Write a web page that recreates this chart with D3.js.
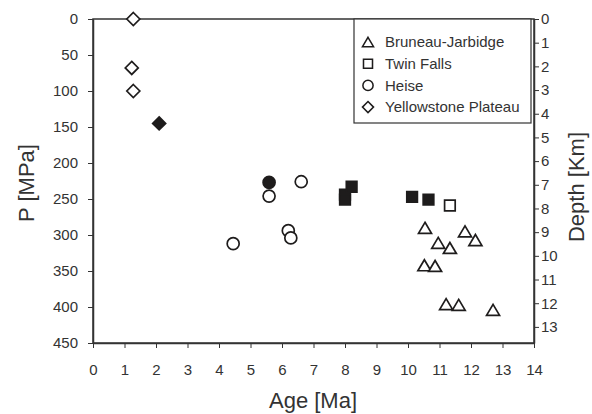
<!DOCTYPE html>
<html>
<head>
<meta charset="utf-8">
<script src="https://cdn.jsdelivr.net/npm/d3@7"></script>
<style>
  html, body { margin: 0; padding: 0; background: #fff; }
  svg { display: block; font-family: "Liberation Sans", Arial, sans-serif; }
</style>
</head>
<body>
<svg id="chart" width="592" height="414"></svg>
<script>
// Series data: age [Ma], pressure [MPa], filled marker flag
const bjAge = [10.54, 11.81, 12.14, 10.96, 11.33, 10.52, 10.86, 11.21, 11.61, 12.70];
const bjP   = [290, 295, 307, 311, 318, 342, 343, 396, 397, 404];
const bjFilled = [0, 0, 0, 0, 0, 0, 0, 0, 0, 0];

const tfAge = [8.0, 8.0, 8.21, 10.13, 10.65, 11.33];
const tfP   = [244, 251, 233, 247, 251, 259];
const tfFilled = [1, 1, 1, 1, 1, 0];

const heAge = [5.59, 5.59, 6.61, 6.20, 6.28, 4.45];
const heP   = [227, 246, 226, 294, 304, 312];
const heFilled = [1, 0, 0, 0, 0, 0];

const ysAge = [1.28, 1.23, 1.28, 2.10];
const ysP   = [0, 68, 100, 145];
const ysFilled = [0, 0, 0, 1];

const seriesNames = ["Bruneau-Jarbidge", "Twin Falls", "Heise", "Yellowstone Plateau"];
const seriesShapes = ["triangle", "square", "circle", "diamond"];

const xTicks = d3.range(0, 15);
const pTicks = d3.range(0, 451, 50);
const depthTicks = d3.range(0, 14);
const depthMax = 13.68;   // depth at 450 MPa

const svg = d3.select("#chart");
const plotLeft = 93, plotRight = 534, plotTop = 19, plotBottom = 343;
const ink = "#333";
const markInk = "#1e1c1c";

const x = d3.scaleLinear().domain([0, 14]).range([plotLeft, plotRight]);
const y = d3.scaleLinear().domain([0, 450]).range([plotTop, plotBottom]);
const yd = d3.scaleLinear().domain([0, depthMax]).range([plotTop, plotBottom]);

function shapePath(shape) {
  switch (shape) {
    case "triangle": return "M0,-5.5L6.5,5.5L-6.5,5.5Z";
    case "square":   return "M-5.3,-5.3H5.3V5.3H-5.3Z";
    case "circle":   return "M6,0A6,6 0 1,1 -6,0A6,6 0 1,1 6,0Z";
    case "diamond":  return "M0,-6.5L6.5,0L0,6.5L-6.5,0Z";
  }
}

// frame
svg.append("rect")
  .attr("x", plotLeft).attr("y", plotTop)
  .attr("width", plotRight - plotLeft).attr("height", plotBottom - plotTop)
  .attr("fill", "none").attr("stroke", ink).attr("stroke-width", 1.5);

function styleAxis(g) {
  g.select(".domain").attr("stroke", ink).attr("stroke-width", 1.5);
  g.selectAll(".tick line").attr("stroke", ink).attr("stroke-width", 1);
  g.selectAll(".tick text").attr("fill", ink).attr("font-size", 15)
    .attr("font-family", "Liberation Sans, Arial, sans-serif");
}

svg.append("g").attr("transform", `translate(0,${plotBottom})`)
  .call(d3.axisBottom(x).tickValues(xTicks).tickSize(5).tickPadding(16).tickSizeOuter(0))
  .call(styleAxis);

svg.append("g").attr("transform", `translate(${plotLeft},0)`)
  .call(d3.axisLeft(y).tickValues(pTicks).tickSize(5).tickPadding(10).tickSizeOuter(0))
  .call(styleAxis);

svg.append("g").attr("transform", `translate(${plotRight},0)`)
  .call(d3.axisRight(yd).tickValues(depthTicks).tickSize(5).tickPadding(2).tickSizeOuter(0))
  .call(styleAxis);

// axis titles
svg.append("text").attr("x", 313).attr("y", 407.5)
  .attr("text-anchor", "middle").attr("font-size", 22).attr("fill", ink).text("Age [Ma]");
svg.append("text").attr("transform", "translate(33.5,183) rotate(-90)")
  .attr("text-anchor", "middle").attr("font-size", 22).attr("fill", ink).text("P [MPa]");
svg.append("text").attr("transform", "translate(584,187) rotate(-90)")
  .attr("text-anchor", "middle").attr("font-size", 22).attr("fill", ink).text("Depth [Km]");

// data points
const series = [
  { ages: bjAge, ps: bjP, filled: bjFilled },
  { ages: tfAge, ps: tfP, filled: tfFilled },
  { ages: heAge, ps: heP, filled: heFilled },
  { ages: ysAge, ps: ysP, filled: ysFilled }
];

series.forEach((s, si) => {
  const pts = s.ages.map((a, i) => ({ a, p: s.ps[i], f: s.filled[i] }));
  svg.append("g").selectAll("path").data(pts).join("path")
    .attr("d", shapePath(seriesShapes[si]))
    .attr("transform", d => `translate(${x(d.a)},${y(d.p)})`)
    .attr("fill", d => d.f ? markInk : "#fff")
    .attr("stroke", markInk).attr("stroke-width", 1.7);
});

// legend
const lg = svg.append("g");
lg.append("rect").attr("x", 354).attr("y", plotTop).attr("width", 177).attr("height", 104)
  .attr("fill", "#fff").attr("stroke", ink).attr("stroke-width", 1.2);
seriesNames.forEach((name, i) => {
  const cy = 42 + i * 21.7;
  lg.append("path").attr("d", shapePath(seriesShapes[i]))
    .attr("transform", `translate(368,${cy}) scale(0.85)`)
    .attr("fill", "#fff").attr("stroke", markInk).attr("stroke-width", 1.8);
  lg.append("text").attr("x", 385).attr("y", cy + 5.3)
    .attr("font-size", 15).attr("fill", ink).text(name);
});
</script>
</body>
</html>
